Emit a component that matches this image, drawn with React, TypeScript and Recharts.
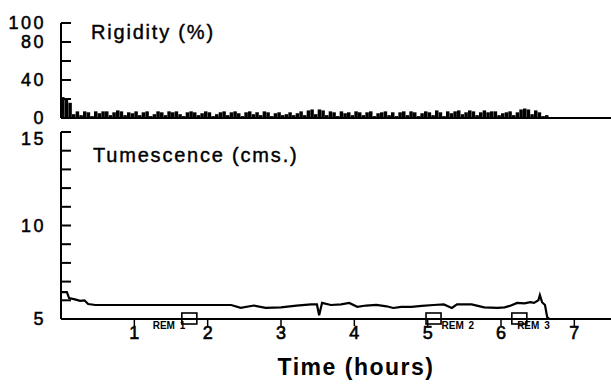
import React from 'react';
import { ComposedChart, Bar, Line, Scatter, XAxis, YAxis, Label } from 'recharts';

// hours on the shared time axis
const hourTicks = [1, 2, 3, 4, 5, 6, 7];

// rigidity panel (%)
const rigidityTicks = [0, 20, 40, 60, 80, 100];
const rigidityLabels = [0, 40, 80, 100];
const rigidityStep = 0.05; // hours between samples
const rigidityValues = [
  22, 21, 16, 4, 7, 3, 7, 6, 2, 7, 5, 7, 7, 3, 6, 8, 7, 3, 6, 5,
  7, 3, 6, 7, 2, 4, 7, 6, 3, 7, 6, 7, 4, 2, 6, 7, 6, 3, 5, 7,
  6, 2, 4, 6, 7, 3, 6, 7, 5, 2, 6, 7, 4, 6, 3, 7, 6, 2, 5, 6,
  3, 4, 6, 3, 5, 7, 3, 8, 9, 4, 9, 8, 3, 7, 6, 2, 7, 5, 6, 3,
  7, 6, 3, 6, 7, 2, 5, 6, 7, 3, 6, 2, 6, 7, 3, 7, 6, 2, 5, 7,
  6, 3, 8, 6, 2, 7, 5, 7, 8, 4, 6, 8, 7, 3, 6, 8, 6, 7, 7, 3,
  5, 6, 7, 3, 6, 9, 10, 9, 4, 8, 6, 2, 3,
];

// tumescence panel (cms.)
const tumescenceTicks = [5, 6, 7, 8, 9, 10, 11, 12, 13, 14, 15];
const tumescenceLabels = [5, 10, 15];
const tumescenceHours = [
  0, 0.08, 0.11, 0.19, 0.26, 0.32, 0.37, 0.47, 1.2, 2.32, 2.45, 2.63, 2.79, 3.0, 3.21,
  3.41, 3.49, 3.52, 3.56, 3.68, 3.82, 3.93, 4.04, 4.16, 4.3, 4.44, 4.53, 4.64, 4.78,
  4.92, 5.08, 5.22, 5.33, 5.4, 5.6, 5.77, 5.95, 6.05, 6.12, 6.22, 6.32, 6.4, 6.45,
  6.51, 6.53, 6.56, 6.6, 6.63, 6.66,
];
const tumescenceValues = [
  6.44, 6.44, 6.12, 6.05, 5.97, 6.0, 5.8, 5.75, 5.75, 5.75, 5.6, 5.72, 5.6, 5.62, 5.72,
  5.78, 5.78, 5.2, 5.86, 5.75, 5.78, 5.86, 5.65, 5.72, 5.75, 5.68, 5.59, 5.65, 5.65,
  5.7, 5.75, 5.78, 5.59, 5.78, 5.78, 5.62, 5.6, 5.62, 5.7, 5.86, 5.84, 5.9, 5.86,
  6.0, 6.28, 5.9, 5.75, 5.1, 5.0,
];

// REM periods marked on the time axis
const remHours = [1.75, 5.08, 6.25];
const remNames = ['REM 1', 'REM 2', 'REM 3'];
const remLabelHours = [1.25, 5.19, 6.22];

const rigidityData = rigidityValues.map((r, i) => ({ t: (i + 0.5) * rigidityStep, r }));
const tumescenceData = tumescenceHours.map((t, i) => ({ t, v: tumescenceValues[i] }));
const remData = remHours.map((t) => ({ t, v: 5 }));
const remLabelData = remLabelHours.map((t, i) => ({ t, v: 5, name: remNames[i] }));

const AXIS_X = 61;
const FONT = 'Liberation Sans, Arial, Helvetica, sans-serif';

const makeYTick = (labels: number[], topValue: number, topShift: number) => (props: any) => {
  const { y, payload } = props;
  const show = labels.includes(payload.value);
  return (
    <g>
      <line x1={AXIS_X} x2={AXIS_X + 10} y1={y} y2={y} stroke="#000" strokeWidth={2} />
      {show && (
        <text
          x={46}
          y={y + (payload.value === topValue ? topShift : 0)}
          dy="0.36em"
          textAnchor="end"
          fontSize={18}
          letterSpacing={2.5}
          fontFamily={FONT}
          fill="#000"
          stroke="#000"
          strokeWidth={0.5}
        >
          {payload.value}
        </text>
      )}
    </g>
  );
};

const XTick = (props: any) => {
  const { x, y, payload } = props;
  return (
    <text
      x={x}
      y={y}
      dy="0.71em"
      textAnchor="middle"
      fontSize={18}
      fontFamily={FONT}
      fill="#000"
      stroke="#000"
      strokeWidth={0.6}
    >
      {payload.value}
    </text>
  );
};

const RemBox = (props: any) => (
  <rect x={props.cx - 7.5} y={props.cy - 6} width={15} height={11} fill="none" stroke="#000" strokeWidth={1.6} />
);

const RemText = (props: any) => (
  <text
    x={props.cx}
    y={props.cy + 10}
    fontSize={10}
    fontWeight="bold"
    wordSpacing={2}
    fontFamily="Liberation Sans Narrow, Arial Narrow, sans-serif"
    fill="#000"
  >
    {props.payload?.name}
  </text>
);

const titleStyle: React.CSSProperties = {
  position: 'absolute',
  fontFamily: FONT,
  fontSize: 20,
  lineHeight: '20px',
  letterSpacing: 1.8,
  color: '#000',
  whiteSpace: 'nowrap',
  WebkitTextStroke: '0.4px #000',
};

export default function App() {
  return (
    <div style={{ position: 'absolute', left: 0, top: 0, width: 611, height: 389, background: '#fff', overflow: 'hidden' }}>
      <div style={{ position: 'absolute', left: 0, top: 0 }}>
        <ComposedChart width={611} height={130} data={rigidityData} margin={{ top: 23, right: 0, left: 0, bottom: 0 }}>
          <XAxis
            type="number"
            dataKey="t"
            domain={[0, 7.5]}
            ticks={hourTicks}
            interval={0}
            tick={false}
            tickSize={7}
            height={12}
            axisLine={{ stroke: '#000', strokeWidth: 2 }}
            tickLine={{ stroke: '#000', strokeWidth: 1.5 }}
          />
          <YAxis
            type="number"
            domain={[0, 100]}
            ticks={rigidityTicks}
            interval={0}
            width={AXIS_X}
            tickLine={false}
            axisLine={{ stroke: '#000', strokeWidth: 2 }}
            tick={makeYTick(rigidityLabels, 100, 0)}
          />
          <Bar dataKey="r" fill="#000" barSize={3.5} isAnimationActive={false} />
        </ComposedChart>
      </div>
      <div style={{ ...titleStyle, left: 91, top: 22 }}>Rigidity (%)</div>

      <div style={{ position: 'absolute', left: 0, top: 125 }}>
        <ComposedChart width={611} height={264} margin={{ top: 7, right: 0, left: 0, bottom: 0 }}>
          <XAxis
            type="number"
            dataKey="t"
            domain={[0, 7.5]}
            ticks={hourTicks}
            interval={0}
            tickSize={7}
            tickMargin={0}
            height={70}
            axisLine={{ stroke: '#000', strokeWidth: 2 }}
            tickLine={{ stroke: '#000', strokeWidth: 1.5 }}
            tick={<XTick />}
          >
            <Label
              value="Time (hours)"
              position="insideBottom"
              offset={14}
              dx={20}
              fontSize={23}
              fontWeight="bold"
              letterSpacing={1.5}
              fontFamily={FONT}
              fill="#000"
            />
          </XAxis>
          <YAxis
            type="number"
            dataKey="v"
            domain={[5, 15]}
            ticks={tumescenceTicks}
            interval={0}
            width={AXIS_X}
            tickLine={false}
            axisLine={{ stroke: '#000', strokeWidth: 2 }}
            tick={makeYTick(tumescenceLabels, 15, 7)}
          />
          <Line
            data={tumescenceData}
            dataKey="v"
            type="linear"
            stroke="#000"
            strokeWidth={2.2}
            dot={false}
            isAnimationActive={false}
          />
          <Scatter data={remData} dataKey="v" shape={RemBox} isAnimationActive={false} />
          <Scatter data={remLabelData} dataKey="v" shape={RemText} isAnimationActive={false} />
        </ComposedChart>
      </div>
      <div style={{ ...titleStyle, left: 93, top: 145 }}>Tumescence (cms.)</div>
    </div>
  );
}
